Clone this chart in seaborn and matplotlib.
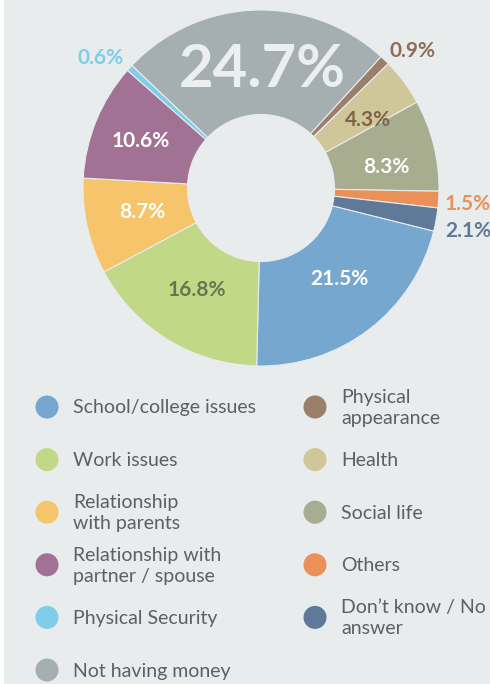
import matplotlib
matplotlib.use("Agg")
import matplotlib.pyplot as plt
from matplotlib.patches import Rectangle
import seaborn as sns
import numpy as np

# ---------------- data ----------------
categories = ["School/college issues", "Work issues", "Relationship with parents",
              "Relationship with partner / spouse", "Physical Security", "Not having money",
              "Physical appearance", "Health", "Social life", "Others", "Don’t know / No answer"]
legend_labels = ["School/college issues", "Work issues", "Relationship\nwith parents",
                 "Relationship with\npartner / spouse", "Physical Security", "Not having money",
                 "Physical\nappearance", "Health", "Social life", "Others", "Don’t know / No\nanswer"]
shares = [21.5, 16.8, 8.7, 10.6, 0.6, 24.7, 0.9, 4.3, 8.3, 1.5, 2.1]
pct_labels = ["21.5%", "16.8%", "8.7%", "10.6%", "0.6%", "24.7%", "0.9%", "4.3%", "8.3%", "1.5%", "2.1%"]

# ---------------- style ----------------
colors = ["#76a7cf", "#c1d987", "#f6c46a", "#a17293", "#7fcde8", "#a5afb2",
          "#9b7f6a", "#cfc799", "#a8ad90", "#ec9059", "#5f7a99"]
label_colors = ["white", "#6b7450", "white", "white", "#7fcde8", "#eceff0",
                "#8c6e58", "#7d6449", "white", "#ec9059", "#5f7a99"]
label_r = [0.66, 0.66, 0.68, 0.73, 1.17, 0.68, 1.16, 0.72, 0.715, 1.036, 1.058]
label_dtheta = [4.3, -1.3, -2.5, -0.3, 2.7, -2.5, -3.1, -3.0, -3.0, -0.2, -2.1]
label_ha = ["center"] * 9 + ["left", "left"]
label_size = [15] * 11
label_size[5] = 43
label_dy = -3  # visual vertical correction (px)

BG = "#e8eced"
TXT = "#5a6063"
W, H = 490, 684

sns.set_theme(style="white")
plt.rcParams["font.family"] = ["Lato", "DejaVu Sans"]

fig = plt.figure(figsize=(W / 100, H / 100), dpi=100, facecolor="white")
fig.patches.append(Rectangle((4 / W, 0), 1 - 4 / W, 1, transform=fig.transFigure,
                             facecolor=BG, edgecolor="none", zorder=-10))
ax = fig.add_axes([0, 0, 1, 1])
ax.patch.set_alpha(0)

cx, cy, R = 261, H - 188, 178
ring = 104.5
wedges, _ = ax.pie(shares, colors=colors, startangle=-14, counterclock=False,
                   radius=R, center=(cx, cy),
                   wedgeprops=dict(width=ring, edgecolor=BG, linewidth=0.8))

for w, lab, col, r, dth, ha, fs in zip(wedges, pct_labels, label_colors, label_r,
                                       label_dtheta, label_ha, label_size):
    mid = np.deg2rad((w.theta1 + w.theta2) / 2 + dth)
    x = cx + r * R * np.cos(mid)
    y = cy + r * R * np.sin(mid) + label_dy
    ax.text(x, y, lab, ha=ha, va="center", color=col, fontsize=fs,
            fontweight="bold", clip_on=False)

# ---------------- legend ----------------
col_x = [47, 315]
text_dx = 26
row_y0, row_dy = 407, 52.6
for i, (lab, col) in enumerate(zip(legend_labels, colors)):
    c, r = divmod(i, 6)
    y = H - (row_y0 + r * row_dy)
    ax.scatter([col_x[c]], [y], s=275, color=col, edgecolor="none", zorder=3)
    ax.text(col_x[c] + text_dx, y - 1, lab, ha="left", va="center", color=TXT,
            fontsize=14, linespacing=1.3)

ax.set_xlim(0, W)
ax.set_ylim(0, H)
ax.set_axis_off()

fig.savefig("out.png", dpi=100, facecolor=fig.get_facecolor())
